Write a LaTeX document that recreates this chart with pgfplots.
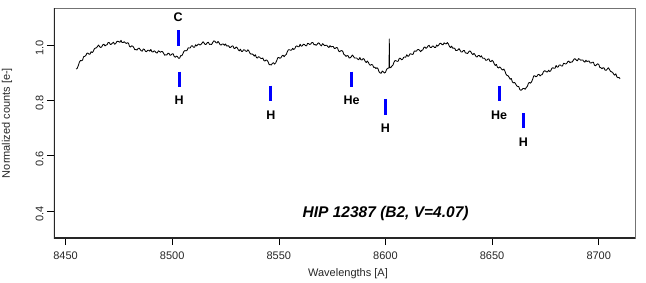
\documentclass[border=0pt]{standalone}
\usepackage{fontspec}
\setmainfont{Liberation Sans}
\usepackage{pgfplots}
\pgfplotsset{compat=1.18}
\begin{document}
\begin{tikzpicture}
\useasboundingbox (-54pt,-44pt) rectangle (592pt,238pt);
\begin{axis}[
  scale only axis, width=581pt, height=230pt,
  at={(0,0)}, anchor=south west,
  xmin=8444.6, xmax=8717, ymin=0.302, ymax=1.134,
  xtick={8450,8500,...,8700}, ytick={0.4,0.6,0.8,1.0},
  yticklabels={0.4,0.6,0.8,1.0},
  xtick pos=left, ytick pos=left,
  tick align=outside, major tick length=7pt,
  tick style={black, line width=0.6pt},
  axis line style={draw=black!55, line width=0.9pt},
  /pgf/number format/assume math mode=true,
  /pgf/number format/1000 sep={},
  tick label style={font=\fontsize{11}{13}\selectfont, text=black!85},
  yticklabel style={rotate=90, anchor=south, xshift=-3pt},
  xticklabel style={yshift=-3pt},
  xlabel={Wavelengths [A]}, ylabel={Normalized counts [e-]},
  label style={font=\fontsize{11}{13}\selectfont, text=black!85},
  xlabel style={at={(axis description cs:0.506,-0.1565)}, anchor=center},
  ylabel style={at={(axis description cs:-0.081,0.5)}, anchor=center, rotate=0},
]
\draw[black!85, line width=1.1pt] (rel axis cs:0,1) -- (rel axis cs:0,0) -- (rel axis cs:1,0);
\addplot[black, line width=0.85pt, line join=round] coordinates {
(8455,0.913) (8455.5,0.916) (8456,0.926) (8456.5,0.938) (8457,0.944) (8457.5,0.943) (8458,0.946) (8458.5,0.958) (8459,0.959) (8459.5,0.962)
(8460,0.970) (8460.5,0.971) (8461,0.967) (8461.5,0.967) (8462,0.976) (8462.5,0.973) (8463,0.977) (8463.5,0.986) (8464,0.989) (8464.5,0.990)
(8465,0.995) (8465.5,1.000) (8466,0.994) (8466.5,0.991) (8467,0.994) (8467.5,1.001) (8468,1.003) (8468.5,0.997) (8469,1.000) (8469.5,1.001)
(8470,1.009) (8470.5,1.009) (8471,1.002) (8471.5,1.003) (8472,1.007) (8472.5,1.010) (8473,1.003) (8473.5,1.005) (8474,1.012) (8474.5,1.014)
(8475,1.012) (8475.5,1.010) (8476,1.017) (8476.5,1.009) (8477,1.009) (8477.5,1.012) (8478,1.008) (8478.5,1.006) (8479,1.008) (8479.5,1.007)
(8480,0.995) (8480.5,0.993) (8481,0.997) (8481.5,0.996) (8482,0.991) (8482.5,0.983) (8483,0.984) (8483.5,0.982) (8484,0.987) (8484.5,0.989)
(8485,0.984) (8485.5,0.979) (8486,0.978) (8486.5,0.986) (8487,0.984) (8487.5,0.977) (8488,0.976) (8488.5,0.981) (8489,0.981) (8489.5,0.978)
(8490,0.984) (8490.5,0.976) (8491,0.975) (8491.5,0.979) (8492,0.977) (8492.5,0.972) (8493,0.971) (8493.5,0.979) (8494,0.977) (8494.5,0.974)
(8495,0.977) (8495.5,0.976) (8496,0.970) (8496.5,0.963) (8497,0.965) (8497.5,0.964) (8498,0.970) (8498.5,0.970) (8499,0.963) (8499.5,0.964)
(8500,0.968) (8500.5,0.968) (8501,0.958) (8501.5,0.956) (8502,0.960) (8502.5,0.958) (8503,0.952) (8503.5,0.952) (8504,0.962) (8504.5,0.961)
(8505,0.968) (8505.5,0.977) (8506,0.980) (8506.5,0.979) (8507,0.981) (8507.5,0.990) (8508,0.989) (8508.5,0.990) (8509,0.997) (8509.5,0.997)
(8510,0.992) (8510.5,0.992) (8511,1.001) (8511.5,0.997) (8512,1.001) (8512.5,1.004) (8513,1.000) (8513.5,1.002) (8514,1.007) (8514.5,1.012)
(8515,1.007) (8515.5,1.002) (8516,1.003) (8516.5,1.009) (8517,1.010) (8517.5,1.002) (8518,1.003) (8518.5,1.002) (8519,1.009) (8519.5,1.015)
(8520,1.014) (8520.5,1.009) (8521,1.007) (8521.5,1.013) (8522,1.008) (8522.5,1.001) (8523,1.000) (8523.5,1.004) (8524,1.004) (8524.5,0.999)
(8525,1.004) (8525.5,0.997) (8526,0.997) (8526.5,0.997) (8527,0.991) (8527.5,0.992) (8528,0.996) (8528.5,0.997) (8529,0.988) (8529.5,0.988)
(8530,0.993) (8530.5,0.990) (8531,0.983) (8531.5,0.979) (8532,0.985) (8532.5,0.977) (8533,0.977) (8533.5,0.983) (8534,0.982) (8534.5,0.978)
(8535,0.977) (8535.5,0.983) (8536,0.978) (8536.5,0.970) (8537,0.967) (8537.5,0.968) (8538,0.965) (8538.5,0.960) (8539,0.965) (8539.5,0.955)
(8540,0.953) (8540.5,0.958) (8541,0.956) (8541.5,0.952) (8542,0.951) (8542.5,0.953) (8543,0.944) (8543.5,0.942) (8544,0.946) (8544.5,0.945)
(8545,0.939) (8545.5,0.929) (8546,0.929) (8546.5,0.928) (8547,0.934) (8547.5,0.936) (8548,0.931) (8548.5,0.935) (8549,0.943) (8549.5,0.954)
(8550,0.955) (8550.5,0.952) (8551,0.954) (8551.5,0.961) (8552,0.963) (8552.5,0.958) (8553,0.963) (8553.5,0.966) (8554,0.976) (8554.5,0.983)
(8555,0.983) (8555.5,0.981) (8556,0.982) (8556.5,0.988) (8557,0.984) (8557.5,0.987) (8558,0.995) (8558.5,0.997) (8559,0.994) (8559.5,0.994)
(8560,1.003) (8560.5,0.996) (8561,0.997) (8561.5,1.003) (8562,1.002) (8562.5,0.998) (8563,0.997) (8563.5,1.006) (8564,1.005) (8564.5,1.002)
(8565,1.004) (8565.5,1.009) (8566,1.009) (8566.5,1.001) (8567,1.002) (8567.5,0.999) (8568,1.003) (8568.5,1.008) (8569,1.006) (8569.5,1.000)
(8570,0.997) (8570.5,1.005) (8571,1.002) (8571.5,0.998) (8572,0.999) (8572.5,0.999) (8573,0.994) (8573.5,0.991) (8574,0.998) (8574.5,0.993)
(8575,0.995) (8575.5,0.995) (8576,0.988) (8576.5,0.988) (8577,0.991) (8577.5,0.990) (8578,0.979) (8578.5,0.976) (8579,0.979) (8579.5,0.980)
(8580,0.977) (8580.5,0.966) (8581,0.964) (8581.5,0.959) (8582,0.962) (8582.5,0.961) (8583,0.953) (8583.5,0.954) (8584,0.958) (8584.5,0.964)
(8585,0.959) (8585.5,0.953) (8586,0.953) (8586.5,0.953) (8587,0.949) (8587.5,0.947) (8588,0.955) (8588.5,0.947) (8589,0.946) (8589.5,0.951)
(8590,0.949) (8590.5,0.941) (8591,0.937) (8591.5,0.942) (8592,0.937) (8592.5,0.929) (8593,0.927) (8593.5,0.930) (8594,0.928) (8594.5,0.919)
(8595,0.920) (8595.5,0.915) (8596,0.918) (8596.5,0.914) (8597,0.903) (8597.5,0.899) (8598,0.898) (8598.5,0.906) (8599,0.903) (8599.5,0.899)
(8600,0.901) (8600.5,0.911) (8601,0.916) (8601.7,0.917) (8601.8,1.022) (8601.9,0.918) (8602,0.921) (8602.5,0.918) (8603,0.924) (8603.5,0.927)
(8604,0.938) (8604.5,0.944) (8605,0.943) (8605.5,0.941) (8606,0.942) (8606.5,0.952) (8607,0.952) (8607.5,0.947) (8608,0.948) (8608.5,0.955)
(8609,0.957) (8609.5,0.956) (8610,0.965) (8610.5,0.959) (8611,0.961) (8611.5,0.968) (8612,0.968) (8612.5,0.966) (8613,0.967) (8613.5,0.978)
(8614,0.978) (8614.5,0.978) (8615,0.983) (8615.5,0.984) (8616,0.981) (8616.5,0.976) (8617,0.981) (8617.5,0.982) (8618,0.991) (8618.5,0.993)
(8619,0.988) (8619.5,0.991) (8620,0.997) (8620.5,0.999) (8621,0.991) (8621.5,0.991) (8622,0.996) (8622.5,0.996) (8623,0.991) (8623.5,0.991)
(8624,1.000) (8624.5,0.996) (8625,1.000) (8625.5,1.006) (8626,1.006) (8626.5,1.002) (8627,1.001) (8627.5,1.008) (8628,1.005) (8628.5,1.004)
(8629,1.009) (8629.5,1.004) (8630,0.995) (8630.5,0.991) (8631,0.996) (8631.5,0.989) (8632,0.989) (8632.5,0.988) (8633,0.980) (8633.5,0.980)
(8634,0.983) (8634.5,0.987) (8635,0.981) (8635.5,0.975) (8636,0.975) (8636.5,0.980) (8637,0.980) (8637.5,0.971) (8638,0.971) (8638.5,0.969)
(8639,0.975) (8639.5,0.979) (8640,0.976) (8640.5,0.969) (8641,0.965) (8641.5,0.970) (8642,0.965) (8642.5,0.958) (8643,0.957) (8643.5,0.962)
(8644,0.962) (8644.5,0.957) (8645,0.961) (8645.5,0.953) (8646,0.952) (8646.5,0.952) (8647,0.945) (8647.5,0.945) (8648,0.949) (8648.5,0.950)
(8649,0.941) (8649.5,0.940) (8650,0.945) (8650.5,0.941) (8651,0.932) (8651.5,0.926) (8652,0.930) (8652.5,0.920) (8653,0.917) (8653.5,0.921)
(8654,0.918) (8654.5,0.912) (8655,0.910) (8655.5,0.913) (8656,0.906) (8656.5,0.895) (8657,0.890) (8657.5,0.889) (8658,0.883) (8658.5,0.876)
(8659,0.879) (8659.5,0.867) (8660,0.863) (8660.5,0.865) (8661,0.860) (8661.5,0.853) (8662,0.850) (8662.5,0.850) (8663,0.839) (8663.5,0.836)
(8664,0.839) (8664.5,0.843) (8665,0.843) (8665.5,0.840) (8666,0.846) (8666.5,0.850) (8667,0.861) (8667.5,0.865) (8668,0.862) (8668.5,0.867)
(8669,0.876) (8669.5,0.888) (8670,0.889) (8670.5,0.885) (8671,0.887) (8671.5,0.893) (8672,0.894) (8672.5,0.888) (8673,0.892) (8673.5,0.893)
(8674,0.902) (8674.5,0.907) (8675,0.906) (8675.5,0.903) (8676,0.903) (8676.5,0.909) (8677,0.904) (8677.5,0.907) (8678,0.916) (8678.5,0.918)
(8679,0.916) (8679.5,0.916) (8680,0.926) (8680.5,0.920) (8681,0.921) (8681.5,0.928) (8682,0.928) (8682.5,0.924) (8683,0.924) (8683.5,0.934)
(8684,0.933) (8684.5,0.931) (8685,0.934) (8685.5,0.940) (8686,0.942) (8686.5,0.936) (8687,0.939) (8687.5,0.938) (8688,0.944) (8688.5,0.950)
(8689,0.950) (8689.5,0.945) (8690,0.943) (8690.5,0.951) (8691,0.949) (8691.5,0.945) (8692,0.946) (8692.5,0.946) (8693,0.941) (8693.5,0.938)
(8694,0.945) (8694.5,0.940) (8695,0.942) (8695.5,0.942) (8696,0.935) (8696.5,0.935) (8697,0.938) (8697.5,0.938) (8698,0.927) (8698.5,0.925)
(8699,0.929) (8699.5,0.932) (8700,0.930) (8700.5,0.919) (8701,0.918) (8701.5,0.914) (8702,0.918) (8702.5,0.917) (8703,0.909) (8703.5,0.909)
(8704,0.913) (8704.5,0.918) (8705,0.912) (8705.5,0.905) (8706,0.903) (8706.5,0.901) (8707,0.895) (8707.5,0.891) (8708,0.896) (8708.5,0.885)
(8709,0.882) (8709.5,0.883) (8710,0.878)
};
% line markers
\addplot[blue, line width=3pt] coordinates {(8502.8,1.054) (8502.8,0.997)};
\addplot[blue, line width=3pt] coordinates {(8503.3,0.904) (8503.3,0.847)};
\addplot[blue, line width=3pt] coordinates {(8546.3,0.853) (8546.3,0.799)};
\addplot[blue, line width=3pt] coordinates {(8584.1,0.904) (8584.1,0.847)};
\addplot[blue, line width=3pt] coordinates {(8600.0,0.805) (8600.0,0.747)};
\addplot[blue, line width=3pt] coordinates {(8653.3,0.853) (8653.3,0.799)};
\addplot[blue, line width=3pt] coordinates {(8664.7,0.753) (8664.7,0.699)};
\begin{scope}[every node/.style={font=\bfseries\fontsize{12.5}{14}\selectfont, text=black}]
\node at (axis cs:8502.8,1.100) {C};
\node at (axis cs:8503.3,0.799) {H};
\node at (axis cs:8546.3,0.747) {H};
\node at (axis cs:8584.1,0.799) {He};
\node at (axis cs:8600.0,0.699) {H};
\node at (axis cs:8653.3,0.747) {He};
\node at (axis cs:8664.7,0.647) {H};
\end{scope}
\node[font=\bfseries\itshape\fontsize{15.5}{18}\selectfont] at (axis cs:8600.1,0.389) {HIP 12387 (B2, V=4.07)};
\end{axis}
\end{tikzpicture}
\end{document}
